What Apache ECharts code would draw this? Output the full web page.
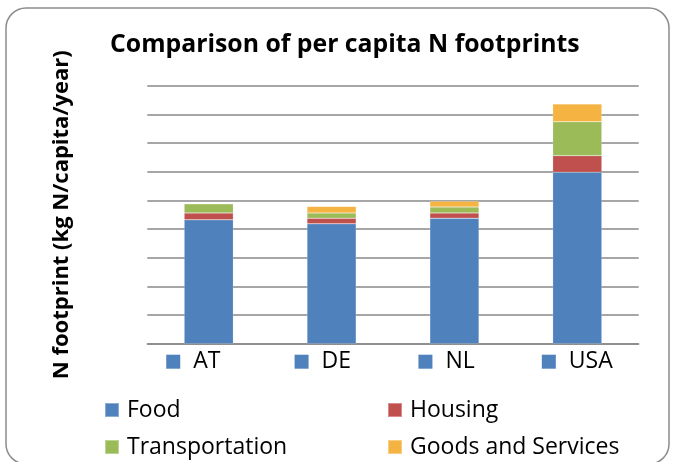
<!DOCTYPE html>
<html>
<head>
<meta charset="utf-8">
<script src="https://cdn.jsdelivr.net/npm/echarts@6/dist/echarts.min.js"></script>
<style>html,body{margin:0;padding:0;background:#fff;}#c{width:677px;height:462px;}</style>
</head>
<body>
<div id="c"></div>
<script>
const categories = ['AT', 'DE', 'NL', 'USA'];
const seriesNames = ['Food', 'Housing', 'Transportation', 'Goods and Services'];
const food = [21.6, 20.9, 21.9, 29.9];
const housing = [1.2, 1.0, 0.9, 2.9];
const transportation = [1.6, 0.9, 1.05, 5.9];
const goods = [0, 1.15, 1.0, 3.1];
const yMax = 45;
const yStep = 5;

const colors = ['#4F81BD', '#C0504D', '#9BBB59', '#F5B342'];
const FONT = 'Open Sans';
const values = [food, housing, transportation, goods];
const labelBoxWidths = [58, 47, 45, 42];
const LABEL_SIZE = 23;

const measureCtx = document.createElement('canvas').getContext('2d');
measureCtx.font = LABEL_SIZE + 'px "' + FONT + '"';

const rich = {
  sq: { width: 14, height: 14, backgroundColor: colors[0] },
  gap: { width: 13 },
  t: { fontSize: LABEL_SIZE, fontFamily: FONT, color: '#000', lineHeight: 28 }
};
categories.forEach((c, i) => {
  const w = measureCtx.measureText(c).width;
  rich['sp' + i] = { width: Math.max(0, labelBoxWidths[i] - w) };
});

const chart = echarts.init(document.getElementById('c'), null, { renderer: 'canvas' });
chart.setOption({
  animation: false,
  backgroundColor: '#fff',
  color: colors,
  title: {
    text: 'Comparison of per capita N footprints',
    left: 110, top: 29,
    padding: 0,
    textStyle: { fontFamily: FONT, fontWeight: 'bold', fontSize: 24.8, color: '#000', lineHeight: 32 }
  },
  graphic: [{
    type: 'rect', silent: true, z: -1,
    shape: { x: 6, y: 8, width: 663, height: 456, r: 20 },
    style: { fill: 'none', stroke: '#8c8c8c', lineWidth: 1.5 }
  }],
  legend: [
    {
      data: [seriesNames[0], seriesNames[2]],
      orient: 'vertical', left: 104, top: 397, padding: 0, itemGap: 11,
      icon: 'rect', itemWidth: 14, itemHeight: 14,
      textStyle: { fontFamily: FONT, fontSize: 23, color: '#000', lineHeight: 26, padding: [0, 0, 0, 3] }
    },
    {
      data: [seriesNames[1], seriesNames[3]],
      orient: 'vertical', left: 387, top: 397, padding: 0, itemGap: 11,
      icon: 'rect', itemWidth: 14, itemHeight: 14,
      textStyle: { fontFamily: FONT, fontSize: 23, color: '#000', lineHeight: 26, padding: [0, 0, 0, 3] }
    }
  ],
  grid: { left: 147.3, right: 38.3, top: 85.7, bottom: 118.3, containLabel: false },
  xAxis: {
    type: 'category',
    data: categories,
    axisLine: { lineStyle: { color: '#888', width: 1.5 } },
    axisTick: { show: false },
    axisLabel: {
      margin: 4,
      interval: 0,
      formatter: (v, i) => '{sq|}{gap|}{t|' + v + '}{sp' + i + '|}',
      rich: rich
    }
  },
  yAxis: {
    type: 'value',
    min: 0, max: yMax, interval: yStep,
    name: 'N footprint (kg N/capita/year)',
    nameLocation: 'middle',
    nameRotate: 90,
    nameGap: 75,
    nameTextStyle: { fontFamily: FONT, fontWeight: 'bold', fontSize: 22, color: '#000' },
    axisLine: { show: false },
    axisTick: { show: false },
    axisLabel: { show: false },
    splitLine: { lineStyle: { color: '#888', width: 1.5 } }
  },
  series: seriesNames.map((n, i) => ({
    name: n,
    type: 'bar',
    stack: 'total',
    barWidth: '40%',
    data: values[i],
    itemStyle: { color: colors[i], borderColor: 'rgba(255,255,255,0.35)', borderWidth: 0.5 }
  }))
});
</script>
</body>
</html>
